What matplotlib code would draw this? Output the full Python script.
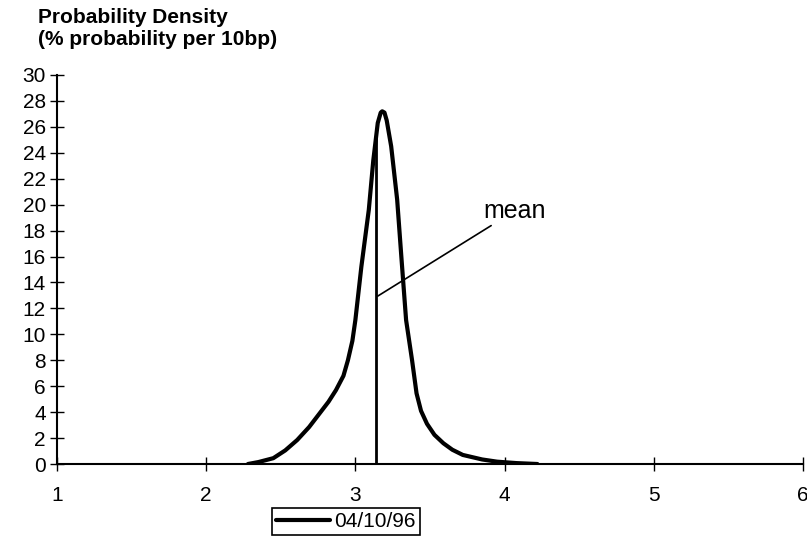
import matplotlib
matplotlib.use("Agg")
import matplotlib.pyplot as plt

plt.rcParams['font.family'] = ['Liberation Sans', 'DejaVu Sans']

# densité (x = taux %, y = % par 10bp)
rate = [2.28, 2.35, 2.45, 2.53, 2.61, 2.69, 2.76, 2.82, 2.87, 2.92, 2.95, 2.98, 3.00,
        3.04, 3.09, 3.12, 3.15, 3.17, 3.18, 3.195, 3.21, 3.24, 3.28, 3.31, 3.34, 3.38, 3.41,
        3.44, 3.48, 3.53, 3.59, 3.65, 3.72, 3.85, 3.95, 4.08, 4.22]
density = [0.0, 0.15, 0.45, 1.05, 1.85, 2.85, 3.9, 4.8, 5.7, 6.8, 8.0, 9.5, 11.1,
           15.2, 19.6, 23.4, 26.3, 27.1, 27.2, 27.1, 26.5, 24.5, 20.4, 15.7, 11.1, 8.0, 5.45,
           4.1, 3.1, 2.25, 1.6, 1.1, 0.7, 0.35, 0.18, 0.07, 0.0]
mean_rate = 3.14
mean_top = 25.3
series_label = "04/10/96"

fig = plt.figure(figsize=(8.07, 5.45), dpi=100)
ax = fig.add_axes([0.0706, 0.1486, 0.9244, 0.7138])

ax.plot(rate, density, color='black', lw=3, solid_capstyle='round',
        solid_joinstyle='round', label=series_label)
ax.plot([mean_rate, mean_rate], [0, mean_top], color='black', lw=2)

ax.annotate("mean", xy=(3.15, 12.95), xytext=(3.86, 18.6), fontsize=18,
            ha='left', va='bottom',
            arrowprops=dict(arrowstyle='-', color='black', lw=1.2, shrinkA=0, shrinkB=0))

ax.set_xlim(1, 6)
ax.set_ylim(0, 30)
ax.set_xticks(range(1, 7))
ax.set_yticks(range(0, 31, 2))
for s in ['top', 'right']:
    ax.spines[s].set_visible(False)
for s in ['left', 'bottom']:
    ax.spines[s].set_linewidth(1.5)
ax.tick_params(axis='both', direction='inout', length=10, width=1, labelsize=15)
ax.tick_params(axis='x', pad=11)
ax.tick_params(axis='y', pad=3)

fig.text(0.047, 0.968, "Probability Density", fontsize=15, fontweight='bold', va='center')
fig.text(0.047, 0.927, "(% probability per 10bp)", fontsize=15, fontweight='bold', va='center')

leg = fig.legend(loc='upper left', bbox_to_anchor=(0.337, 0.068), fontsize=15,
                 frameon=True, fancybox=False, edgecolor='black', framealpha=1,
                 borderaxespad=0, borderpad=0.2, handlelength=2.6, handletextpad=0.2)
leg.get_frame().set_linewidth(1.2)

fig.savefig("out.png", dpi=100)
